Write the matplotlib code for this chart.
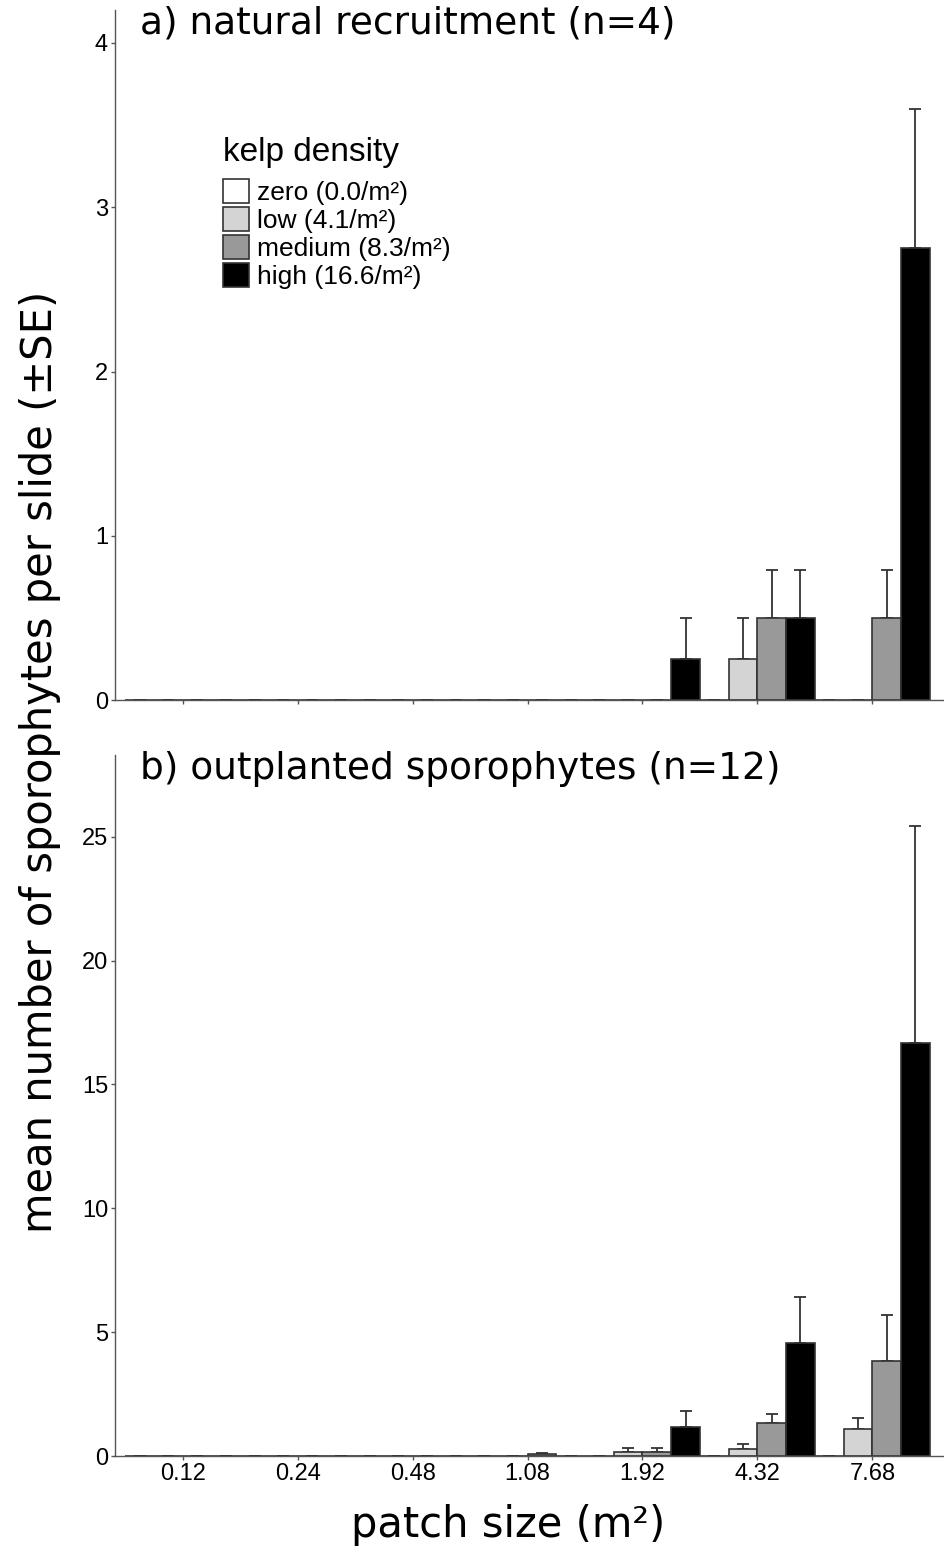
import numpy as np
import matplotlib
matplotlib.use('Agg')
import matplotlib.pyplot as plt
from matplotlib.patches import Patch

# patch sizes (m2) and kelp density treatments
patch_sizes = ['0.12', '0.24', '0.48', '1.08', '1.92', '4.32', '7.68']
densities = ['zero (0.0/m²)', 'low (4.1/m²)', 'medium (8.3/m²)', 'high (16.6/m²)']
colors = ['white', '#d4d4d4', '#999999', 'black']

# a) natural recruitment, mean and SE per density (zero, low, medium, high)
nat_zero = [0, 0, 0, 0, 0, 0, 0]
nat_low = [0, 0, 0, 0, 0, 0.25, 0]
nat_med = [0, 0, 0, 0, 0, 0.5, 0.5]
nat_high = [0, 0, 0, 0, 0.25, 0.5, 2.75]
nat_zero_se = [0, 0, 0, 0, 0, 0, 0]
nat_low_se = [0, 0, 0, 0, 0, 0.25, 0]
nat_med_se = [0, 0, 0, 0, 0, 0.29, 0.29]
nat_high_se = [0, 0, 0, 0, 0.25, 0.29, 0.85]

# b) outplanted sporophytes
out_zero = [0, 0, 0, 0, 0, 0, 0]
out_low = [0, 0, 0, 0, 0.17, 0.3, 1.08]
out_med = [0, 0, 0, 0.08, 0.17, 1.33, 3.83]
out_high = [0, 0, 0, 0, 1.17, 4.58, 16.67]
out_zero_se = [0, 0, 0, 0, 0, 0, 0]
out_low_se = [0, 0, 0, 0, 0.15, 0.19, 0.45]
out_med_se = [0, 0, 0, 0.05, 0.15, 0.38, 1.85]
out_high_se = [0, 0, 0, 0, 0.63, 1.85, 8.75]

TICK_FONT = 'Liberation Sans'
LABEL_FONT = 'DejaVu Sans'
AX_COLOR = '#555555'


def draw_panel(ax, means, ses, ymax, yticks, title):
    x = np.arange(len(patch_sizes))
    width = 0.25
    offsets = [-1.5, -0.5, 0.5, 1.5]
    for vals, errs, col, off in zip(means, ses, colors, offsets):
        ax.bar(x + off * width, vals, width, color=col, edgecolor='#333333',
               linewidth=1.2, zorder=2)
        ax.errorbar(x + off * width, vals, yerr=[np.zeros(len(errs)), errs],
                    fmt='none', ecolor='#333333', elinewidth=1.3, capsize=4,
                    capthick=1.3, zorder=1)
    ax.set_xlim(-0.59, 6.63)
    ax.set_ylim(0, ymax)
    ax.set_xticks(x)
    ax.set_yticks(yticks)
    for side in ['top', 'right']:
        ax.spines[side].set_visible(False)
    for side in ['left', 'bottom']:
        ax.spines[side].set_color(AX_COLOR)
        ax.spines[side].set_linewidth(1.0)
    ax.tick_params(length=3, width=1, color=AX_COLOR, labelsize=17, pad=2)
    for lab in ax.get_yticklabels():
        lab.set_family(TICK_FONT)
    ax.text(0.03, 1.006, title, transform=ax.transAxes, ha='left', va='top',
            fontsize=27, family=LABEL_FONT)


fig = plt.figure(figsize=(9.45, 15.49), dpi=100)
ax1 = fig.add_axes([0.1217, 0.548, 0.878, 0.4455])
ax2 = fig.add_axes([0.1217, 0.060, 0.878, 0.4526])

draw_panel(ax1, [nat_zero, nat_low, nat_med, nat_high],
           [nat_zero_se, nat_low_se, nat_med_se, nat_high_se],
           4.2, [0, 1, 2, 3, 4], 'a) natural recruitment (n=4)')
ax1.set_xticklabels([])

draw_panel(ax2, [out_zero, out_low, out_med, out_high],
           [out_zero_se, out_low_se, out_med_se, out_high_se],
           28.3, [0, 5, 10, 15, 20, 25], 'b) outplanted sporophytes (n=12)')
ax2.set_xticklabels(patch_sizes, family=TICK_FONT)

fig.text(508 / 945, 1 - 1525 / 1549, 'patch size (m²)', ha='center', va='center',
         fontsize=30, family=LABEL_FONT)
fig.text(0.042, 1 - 762 / 1549, 'mean number of sporophytes per slide (±SE)', rotation=90,
         ha='center', va='center', fontsize=30, family=LABEL_FONT)

handles = [Patch(facecolor=c, edgecolor='#333333', linewidth=1.2) for c in colors]
leg = ax1.legend(handles, densities, loc='upper left',
                 bbox_to_anchor=(223 / 945, 1 - 137 / 1549),
                 bbox_transform=fig.transFigure, frameon=False,
                 prop={'family': TICK_FONT, 'size': 19},
                 title='kelp density', title_fontproperties={'family': TICK_FONT, 'size': 24},
                 alignment='left', handlelength=1.0, handleheight=1.0,
                 handletextpad=0.3, labelspacing=0.08, borderpad=0, borderaxespad=0)
leg._legend_box.sep = 8

fig.savefig('out.png', dpi=100)
